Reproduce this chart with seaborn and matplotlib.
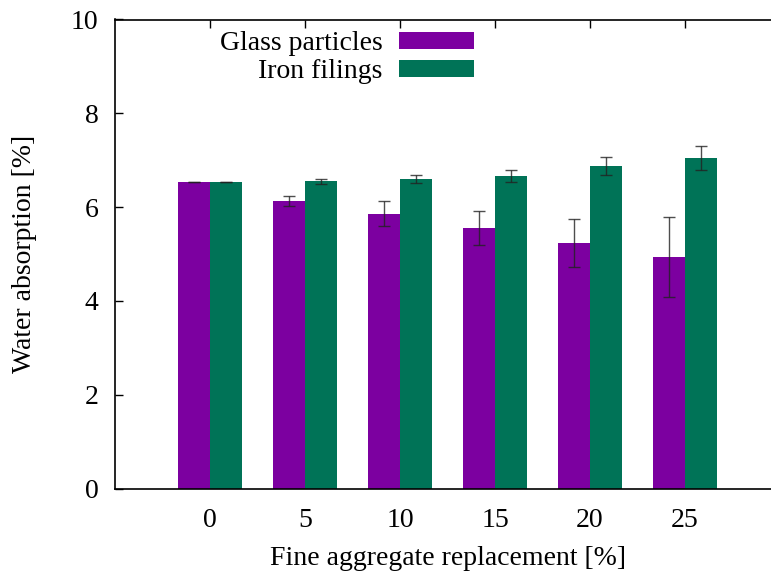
import matplotlib
matplotlib.use("Agg")
import matplotlib.pyplot as plt
from matplotlib.patches import Patch
import seaborn as sns
import pandas as pd
import numpy as np

categories = ["0", "5", "10", "15", "20", "25"]
series_names = ["Glass particles", "Iron filings"]
glass_values = [6.53, 6.13, 5.86, 5.55, 5.24, 4.93]
glass_errors = [0.0, 0.11, 0.27, 0.36, 0.51, 0.85]
iron_values = [6.53, 6.55, 6.60, 6.66, 6.87, 7.04]
iron_errors = [0.0, 0.05, 0.085, 0.13, 0.19, 0.255]
colors = ["#7c00a0", "#007357"]

df = pd.DataFrame({
    "cat": categories * 2,
    "series": [series_names[0]] * 6 + [series_names[1]] * 6,
    "value": glass_values + iron_values,
})

sns.set_theme(style="white")
plt.rcParams["font.family"] = ["Liberation Serif", "DejaVu Serif"]
plt.rcParams["text.color"] = "black"
plt.rcParams["axes.labelcolor"] = "black"

fig = plt.figure(figsize=(7.71, 5.77), dpi=100)
ax = fig.add_axes([115 / 771, 88.5 / 577, 665 / 771, 469 / 577])

sns.barplot(data=df, x="cat", y="value", hue="series", order=categories,
            hue_order=series_names, palette=colors, width=0.68, gap=0,
            errorbar=None, legend=False, ax=ax, saturation=1,
            edgecolor="none", linewidth=0)

errs = glass_errors + iron_errors
for p, e in zip(ax.patches, errs):
    cx = p.get_x() + p.get_width() / 2
    ax.errorbar(cx, p.get_height(), yerr=e, fmt="none", ecolor="#222222",
                elinewidth=1.0, capsize=4, capthick=1.0, alpha=0.8, zorder=5)

ax.set_xlim(-1, 6)
ax.set_ylim(0, 10)
ax.set_yticks([0, 2, 4, 6, 8, 10])
for s in ax.spines.values():
    s.set_color("black")
    s.set_linewidth(1.2)

ax.tick_params(axis="y", direction="in", length=6, width=1, left=True,
               right=True, labelsize=20, pad=12, colors="black")
ax.tick_params(axis="x", direction="in", length=6, width=1, top=True,
               bottom=False, labelsize=20, pad=14, colors="black")

ax.set_xlabel("Fine aggregate replacement [%]", fontsize=20, color="black")
ax.set_ylabel("Water absorption [%]", fontsize=20, color="black")
ax.xaxis.set_label_coords(0.5, -0.122)
ax.yaxis.set_label_coords(-0.118, 0.5)

handles = [Patch(facecolor=c, edgecolor="none") for c in colors]
ax.legend(handles, series_names, loc="upper right",
          bbox_to_anchor=(474 / 771, 1 - 31.5 / 577), bbox_transform=fig.transFigure,
          frameon=False, markerfirst=False, fontsize=20, handlelength=2.7,
          handleheight=0.55, handletextpad=0.6, labelspacing=0.1,
          borderpad=0, borderaxespad=0, labelcolor="black")

fig.savefig("out.png", dpi=100)
